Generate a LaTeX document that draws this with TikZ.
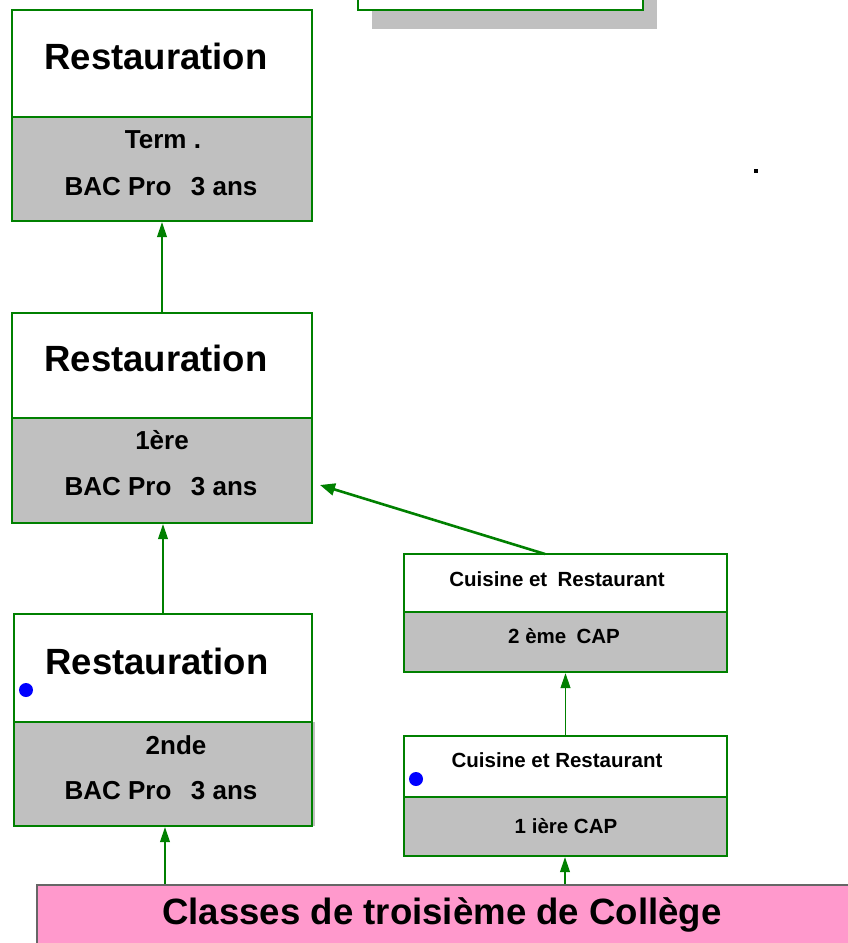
\documentclass[tikz,border=0pt]{standalone}
\usepackage{fontspec}
\setmainfont{Liberation Sans}
\usetikzlibrary{arrows.meta}
\definecolor{boxgreen}{HTML}{008000}
\definecolor{boxgray}{HTML}{C0C0C0}
\definecolor{barpink}{HTML}{FF99CC}
\definecolor{dotblue}{HTML}{0000FF}
\tikzset{
  upper/.style={draw=boxgreen, line width=2.4bp, fill=white, rectangle, inner sep=0pt},
  lower/.style={draw=boxgreen, line width=2.4bp, fill=boxgray, rectangle, inner sep=0pt},
  big/.style={font=\fontsize{36.5bp}{40bp}\selectfont\bfseries, inner sep=0pt},
  mid/.style={font=\fontsize{26bp}{30bp}\selectfont\bfseries, inner sep=0pt},
  small/.style={font=\fontsize{20.5bp}{24bp}\selectfont\bfseries, inner sep=0pt},
  link/.style={draw=boxgreen, line width=1.1bp, -{Triangle[length=15bp,width=10bp]}},
  thicklink/.style={draw=boxgreen, line width=2.6bp, -{Triangle[length=15bp,width=12bp]}},
  marker/.style={circle, fill=dotblue, inner sep=0pt, minimum size=14bp},
}
\begin{document}
\begin{tikzpicture}[x=1bp, y=-1bp]
\useasboundingbox (0,0) rectangle (848,943);

% partly hidden box at the top, with its shadow
\fill[boxgray] (372,-5) rectangle (657,29);
\draw[boxgreen, line width=2.4bp, fill=white] (358,-5) rectangle (643,10);

% Terminale
\node[upper, minimum width=300bp, minimum height=107bp] (tUp) at (162,63.5) {};
\node[lower, minimum width=300bp, minimum height=104bp] (tLo) at (162,169) {};
\node[big] (tName) at (156,56) {Restauration};
\node[mid] (tLevel) at (163,140) {Term .};
\node[mid] (tBac) at (161,187) {BAC Pro\hspace{0.75em}3 ans};

% Premiere
\node[upper, minimum width=300bp, minimum height=105bp] (pUp) at (162,365.5) {};
\node[lower, minimum width=300bp, minimum height=105bp] (pLo) at (162,470.5) {};
\node[big] (pName) at (156,358) {Restauration};
\node[mid] (pLevel) at (162,440) {1ère};
\node[mid] (pBac) at (161,487) {BAC Pro\hspace{0.75em}3 ans};

% Seconde: the grey band runs a little past the right edge of its frame
\fill[boxgray] (14,722) rectangle (315,826);
\node[upper, minimum width=298bp, minimum height=108bp] (sUp) at (163,668) {};
\node[draw=boxgreen, line width=2.4bp, rectangle, inner sep=0pt, minimum width=298bp, minimum height=104bp] (sLo) at (163,774) {};
\node[big] (sName) at (157,661) {Restauration};
\node[mid] (sLevel) at (176,745) {2nde};
\node[mid] (sBac) at (161,791) {BAC Pro\hspace{0.75em}3 ans};
\node[marker] (sDot) at (26,690) {};

% CAP, deuxieme annee
\node[upper, minimum width=323bp, minimum height=58bp] (c2Up) at (565.5,583) {};
\node[lower, minimum width=323bp, minimum height=60bp] (c2Lo) at (565.5,642) {};
\node[small] (c2Name) at (557,579) {Cuisine et\hspace{0.5em}Restaurant};
\node[small] (c2Level) at (564,636) {2 ème\hspace{0.5em}CAP};

% CAP, premiere annee
\node[upper, minimum width=323bp, minimum height=61bp] (c1Up) at (565.5,766.5) {};
\node[lower, minimum width=323bp, minimum height=59bp] (c1Lo) at (565.5,826.5) {};
\node[small] (c1Name) at (557,760) {Cuisine et Restaurant};
\node[small] (c1Level) at (566,826) {1 ière CAP};
\node[marker] (c1Dot) at (416,779) {};

% stray dot
\node[fill=black, inner sep=0pt, minimum size=4bp] (dot) at (756,171) {};

% college bar
\node[fill=barpink, draw=gray!80!black, line width=1.5bp, minimum width=830bp, minimum height=70bp, anchor=north west, inner sep=0pt] (bar) at (36,884) {};
\node[big, font=\fontsize{36.6bp}{40bp}\selectfont\bfseries] (barText) at (442,915) {Classes de troisième de Collège};

% connectors
\coordinate (barL) at (165,884);
\coordinate (barR) at (565,884);
\coordinate (pEnd) at (320,485);
\coordinate (c2Start) at (545,554);
\draw[link] (barL) -- (barL |- sLo.south);
\draw[link] (barR) -- (barR |- c1Lo.south);
\draw[link] (c1Up.north) -- (c2Lo.south);
\draw[link] (sUp.north) -- (sUp.north |- pLo.south);
\draw[link] (pUp.north) -- (tLo.south);
\draw[thicklink] (c2Start) -- (pEnd);
\end{tikzpicture}
\end{document}
